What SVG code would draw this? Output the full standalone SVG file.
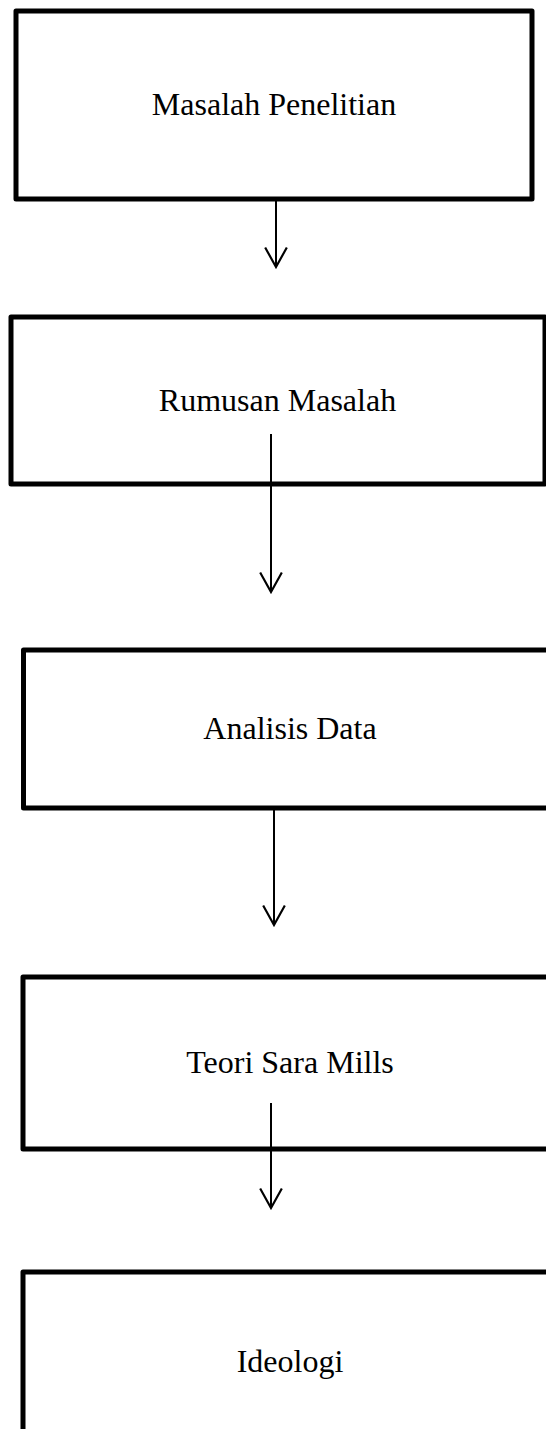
<svg xmlns="http://www.w3.org/2000/svg" width="546" height="1429" viewBox="0 0 546 1429">
  <style>
    .box { fill: #ffffff; stroke: #000000; stroke-width: 5; stroke-linejoin: round; }
    .lbl { font-family: "Liberation Serif", "Times New Roman", serif; font-size: 32px; fill: #000000; text-anchor: middle; }
    .conn { fill: none; stroke: #000000; stroke-width: 2; }
  </style>
  <defs>
    <marker id="arrow" markerUnits="userSpaceOnUse" markerWidth="24" markerHeight="26" viewBox="-20 -12 22 24" refX="0" refY="0" orient="auto">
      <path d="M-18,-10 L0,0 L-18,10" fill="none" stroke="#000000" stroke-width="2"/>
    </marker>
  </defs>
  <rect x="0" y="0" width="546" height="1429" fill="#ffffff"/>
  <g id="node-masalah-penelitian">
    <rect class="box" x="16" y="11" width="516" height="188"/>
    <text class="lbl" x="274" y="115">Masalah Penelitian</text>
  </g>
  <g id="node-rumusan-masalah">
    <rect class="box" x="11" y="317" width="534" height="167"/>
    <text class="lbl" x="277.5" y="411">Rumusan Masalah</text>
  </g>
  <g id="node-analisis-data">
    <rect class="box" x="23.5" y="650" width="540" height="158"/>
    <text class="lbl" x="290" y="739">Analisis Data</text>
  </g>
  <g id="node-teori-sara-mills">
    <rect class="box" x="23" y="977" width="540" height="172"/>
    <text class="lbl" x="290" y="1073">Teori Sara Mills</text>
  </g>
  <g id="node-ideologi">
    <rect class="box" x="23" y="1272" width="540" height="200"/>
    <text class="lbl" x="290" y="1372">Ideologi</text>
  </g>
  <g id="connectors">
    <line class="conn" x1="276" y1="201" x2="276" y2="267" marker-end="url(#arrow)"/>
    <line class="conn" x1="271" y1="434" x2="271" y2="592" marker-end="url(#arrow)"/>
    <line class="conn" x1="274" y1="808" x2="274" y2="925" marker-end="url(#arrow)"/>
    <line class="conn" x1="271" y1="1103" x2="271" y2="1208" marker-end="url(#arrow)"/>
  </g>
</svg>
